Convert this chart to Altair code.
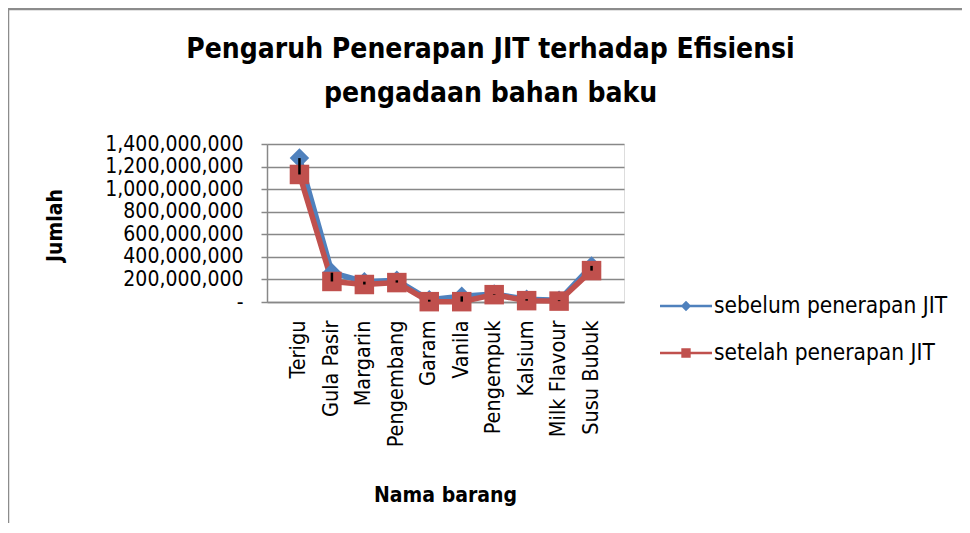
import altair as alt
import pandas as pd

categories = ["Terigu", "Gula Pasir", "Margarin", "Pengembang", "Garam",
              "Vanila", "Pengempuk", "Kalsium", "Milk Flavour", "Susu Bubuk"]
sebelum = [1275e6, 260e6, 180e6, 192e6, 20e6, 50e6, 70e6, 25e6, 15e6, 320e6]
setelah = [1130e6, 182e6, 155e6, 172e6, 3e6, 3e6, 65e6, 12e6, 8e6, 278e6]
series_names = ["sebelum penerapan JIT", "setelah penerapan JIT"]
y_ticks = [0, 200e6, 400e6, 600e6, 800e6, 1000e6, 1200e6, 1400e6]

FONT = "DejaVu Sans Condensed"
BLUE = "#4F81BD"
RED = "#C0504D"

rows = []
for i, c in enumerate(categories):
    rows.append({"barang": c, "seri": series_names[0], "jumlah": sebelum[i]})
    rows.append({"barang": c, "seri": series_names[1], "jumlah": setelah[i]})
long_df = pd.DataFrame(rows)
wide_df = pd.DataFrame({"barang": categories, "jumlah": sebelum, "setelah": setelah})

x_axis = alt.Axis(labelAngle=-90, labelAlign="right", labelBaseline="middle",
                  labelFontSize=21.5, labelFont=FONT, labelColor="#000",
                  labelPadding=18, labelOverlap=False, ticks=False,
                  domainColor="#888", domainWidth=1.5,
                  titleFont=FONT, titleFontSize=21,
                  titleFontWeight="bold", titleColor="#000",
                  titleX=178, titleY=193, titleBaseline="middle",
                  titleAlign="center")
y_axis = alt.Axis(values=y_ticks, labelOverlap=False, tickCount=8,
                  labelExpr="datum.value == 0 ? '-' : format(datum.value, ',')",
                  labelFontSize=21, labelFont=FONT, labelColor="#000",
                  labelPadding=18, tickSize=6, tickColor="#888", tickWidth=1.5,
                  domainColor="#888", domainWidth=1.5,
                  gridColor="#888", gridWidth=1.5,
                  titleFont=FONT, titleFontSize=21, titleFontWeight="bold",
                  titleColor="#000", titleAngle=-90, titleX=-212, titleY=81,
                  titleAlign="center", titleBaseline="middle")

x_enc = alt.X("barang:N", sort=categories, title="Nama barang",
              scale=alt.Scale(paddingInner=0, paddingOuter=0.5), axis=x_axis)
y_enc = alt.Y("jumlah:Q", title="Jumlah",
              scale=alt.Scale(domain=[0, 1.4e9], nice=False), axis=y_axis)

color_scale = alt.Scale(domain=series_names, range=[BLUE, RED])

border = alt.Chart(pd.DataFrame({"a": [0]})).mark_rect(
    fill=None, stroke="#8c8c8c", strokeWidth=2.5
).encode(x=alt.value(-259), x2=alt.value(2000), y=alt.value(-135), y2=alt.value(2000))

lines = alt.Chart(long_df).mark_line(strokeWidth=5.5).encode(
    x=x_enc, y=y_enc,
    color=alt.Color("seri:N", scale=color_scale, legend=None),
    order=alt.Order("seri:N"),
)

leg_props = dict(title=None, orient="none", legendX=393, legendY=136,
                 symbolSize=2704, symbolOpacity=1, symbolStrokeWidth=0,
                 labelFont=FONT, labelFontSize=22.5, labelColor="#000",
                 labelLimit=0, labelOffset=2, rowPadding=9)
leg_paths = [
    "M-1,-0.05H1V0.05H-1Z M0,-0.2L0.2,0L0,0.2L-0.2,0Z",
    "M-1,-0.05H1V0.05H-1Z M-0.18,-0.18H0.18V0.18H-0.18Z",
]
legend_carrier = alt.Chart(long_df).mark_point(filled=True, opacity=0, size=2704).encode(
    x=x_enc, y=y_enc,
    color=alt.Color("seri:N", scale=color_scale, legend=alt.Legend(**leg_props)),
    shape=alt.Shape("seri:N", scale=alt.Scale(domain=series_names, range=leg_paths),
                    legend=alt.Legend(**leg_props)),
)

points = alt.Chart(long_df).mark_point(filled=True, opacity=1, size=380).encode(
    x=x_enc, y=y_enc,
    color=alt.Color("seri:N", scale=color_scale, legend=None),
    shape=alt.Shape("seri:N", scale=alt.Scale(domain=series_names, range=["diamond", "square"]),
                    legend=None),
)

hilo = alt.Chart(wide_df).mark_rule(color="black", strokeWidth=2.5).encode(
    x=x_enc, y=y_enc, y2="setelah:Q"
)

chart = alt.layer(border, lines, legend_carrier, points, hilo).resolve_scale(
    shape="independent", color="independent"
).properties(
    width=357, height=158,
    autosize=alt.AutoSizeParams(type="none"),
    padding={"left": 259, "top": 136, "right": 338, "bottom": 221},
    title=alt.Title(["Pengaruh Penerapan JIT terhadap Efisiensi", "pengadaan bahan baku"],
                    anchor="middle", frame="group", dx=45, dy=140, offset=40,
                    font=FONT, fontSize=28, fontWeight="bold", color="#000",
                    lineHeight=44),
).configure_view(stroke="transparent", strokeWidth=0).configure(background="white")

chart.save("out.html", embed_options={"renderer": "svg", "actions": False})
